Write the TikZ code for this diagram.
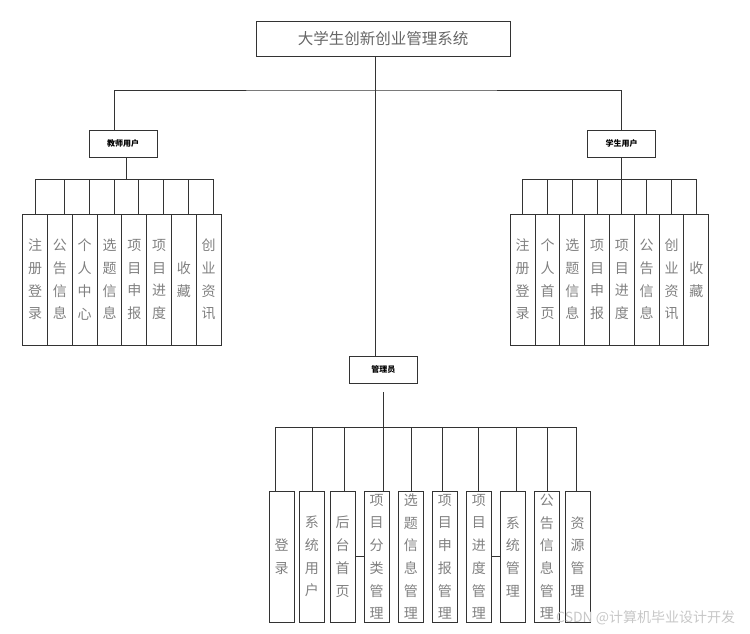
\documentclass[tikz,border=0pt]{standalone}
\usepackage{fontspec}
\setmainfont{Noto Sans CJK SC}
\begin{document}
\begin{tikzpicture}[x=1pt,y=-1pt,
  ln/.style={draw=black!80,line width=0.9pt},
  box/.style={draw=black!80,line width=0.9pt,rectangle,inner sep=0pt},
  hbox/.style={box,minimum width=68pt,minimum height=27pt,font=\bfseries\fontsize{8}{9}\selectfont},
  tvbox/.style={box,minimum width=24.8pt,minimum height=131pt,align=center,text=black!50,font=\fontsize{14}{22.7}\selectfont},
  avbox/.style={box,minimum width=25pt,minimum height=131.3pt,align=center,text=black!50,font=\fontsize{14}{22.7}\selectfont}]
\useasboundingbox (0,0) rectangle (750,633);

% title and second level
\node[box,minimum width=254pt,minimum height=35pt,text=black!60,font=\fontsize{15.5}{16}\selectfont] (title) at (383,38.5) {大学生创新创业管理系统};
\node[hbox] (teacher) at (123,143.5) {教师用户};
\node[hbox] (student) at (621.7,143.5) {学生用户};
\node[hbox] (admin) at (383.3,369.5) {管理员};

\coordinate (hub) at (375,90);
\draw[ln] (title.south -| hub) -- (admin.north -| hub);
\draw[ln] (teacher.north -| 114,0) |- (hub) -| (student.north);

% teacher branch
\coordinate (tbus) at (126,179);
\draw[ln] (teacher.south -| tbus) -- (tbus);
\draw[ln] (35.7,179) -- (213.3,179);
\node[tvbox] (t1) at (35.1,279.5) {注\\册\\登\\录};
\node[tvbox] (t2) at (59.9,279.5) {公\\告\\信\\息};
\node[tvbox] (t3) at (84.7,279.5) {个\\人\\中\\心};
\node[tvbox] (t4) at (109.5,279.5) {选\\题\\信\\息};
\node[tvbox] (t5) at (134.3,279.5) {项\\目\\申\\报};
\node[tvbox] (t6) at (159.1,279.5) {项\\目\\进\\度};
\node[tvbox] (t7) at (183.9,279.5) {收\\藏};
\node[tvbox] (t8) at (208.7,279.5) {创\\业\\资\\讯};
\draw[ln] (t1.north -| 35.7,0) -- (tbus -| 35.7,0);
\draw[ln] (t2.north -| 64.3,0) -- (tbus -| 64.3,0);
\draw[ln] (t3.north -| 89,0) -- (tbus -| 89,0);
\draw[ln] (t4.north -| 114,0) -- (tbus -| 114,0);
\draw[ln] (t5.north -| 138.7,0) -- (tbus -| 138.7,0);
\draw[ln] (t6.north -| 163.7,0) -- (tbus -| 163.7,0);
\draw[ln] (t7.north -| 188.7,0) -- (tbus -| 188.7,0);
\draw[ln] (t8.north -| 213.3,0) -- (tbus -| 213.3,0);

% student branch
\coordinate (sbus) at (622,179);
\draw[ln] (student.south) -- (student.south |- sbus);
\draw[ln] (522.7,179) -- (696.3,179);
\node[tvbox] (s1) at (522.7,279.5) {注\\册\\登\\录};
\node[tvbox] (s2) at (547.5,279.5) {个\\人\\首\\页};
\node[tvbox] (s3) at (572.3,279.5) {选\\题\\信\\息};
\node[tvbox] (s4) at (597.1,279.5) {项\\目\\申\\报};
\node[tvbox] (s5) at (621.9,279.5) {项\\目\\进\\度};
\node[tvbox] (s6) at (646.7,279.5) {公\\告\\信\\息};
\node[tvbox] (s7) at (671.5,279.5) {创\\业\\资\\讯};
\node[tvbox] (s8) at (696.3,279.5) {收\\藏};
\foreach \n in {s1,s2,s3,s4,s5,s6,s7,s8}
  \draw[ln] (\n.north) -- (\n.north |- sbus);

% admin branch
\coordinate (abus) at (383.3,427.7);
\draw[ln] ([yshift=-8.7pt]admin.south) -- (abus);
\draw[ln] (275,427.7) -- (576.7,427.7);
\node[avbox] (a1) at (281.5,556.7) {登\\录};
\node[avbox] (a2) at (311.8,556.7) {系\\统\\用\\户};
\node[avbox] (a3) at (342.5,556.7) {后\\台\\首\\页};
\node[avbox] (a4) at (376.7,556.7) {项\\目\\分\\类\\管\\理};
\node[avbox] (a5) at (410.8,556.7) {选\\题\\信\\息\\管\\理};
\node[avbox] (a6) at (444.8,556.7) {项\\目\\申\\报\\管\\理};
\node[avbox] (a7) at (478.8,556.7) {项\\目\\进\\度\\管\\理};
\node[avbox] (a8) at (512.8,556.7) {系\\统\\管\\理};
\node[avbox] (a9) at (546.8,556.7) {公\\告\\信\\息\\管\\理};
\node[avbox] (a10) at (577.5,556.7) {资\\源\\管\\理};
\draw[ln] (a1.north -| 275,0) -- (abus -| 275,0);
\draw[ln] (a2.north -| 312,0) -- (abus -| 312,0);
\draw[ln] (a3.north -| 344,0) -- (abus -| 344,0);
\draw[ln] (a4.north -| 383.3,0) -- (abus -| 383.3,0);
\draw[ln] (a5.north -| 411.3,0) -- (abus -| 411.3,0);
\draw[ln] (a6.north -| 442.7,0) -- (abus -| 442.7,0);
\draw[ln] (a7.north -| 478.3,0) -- (abus -| 478.3,0);
\draw[ln] (a8.north -| 516.7,0) -- (abus -| 516.7,0);
\draw[ln] (a9.north -| 547.7,0) -- (abus -| 547.7,0);
\draw[ln] (a10.north -| 576.7,0) -- (abus -| 576.7,0);
\draw[ln] (a3.east) -- (a4.west);
\draw[ln] (a7.east) -- (a8.west);

% watermark
\node[anchor=west,inner sep=0pt,text=black!22,font=\fontsize{14}{14}\selectfont] (wm) at (556,617.5) {CSDN @计算机毕业设计开发};
\end{tikzpicture}
\end{document}
